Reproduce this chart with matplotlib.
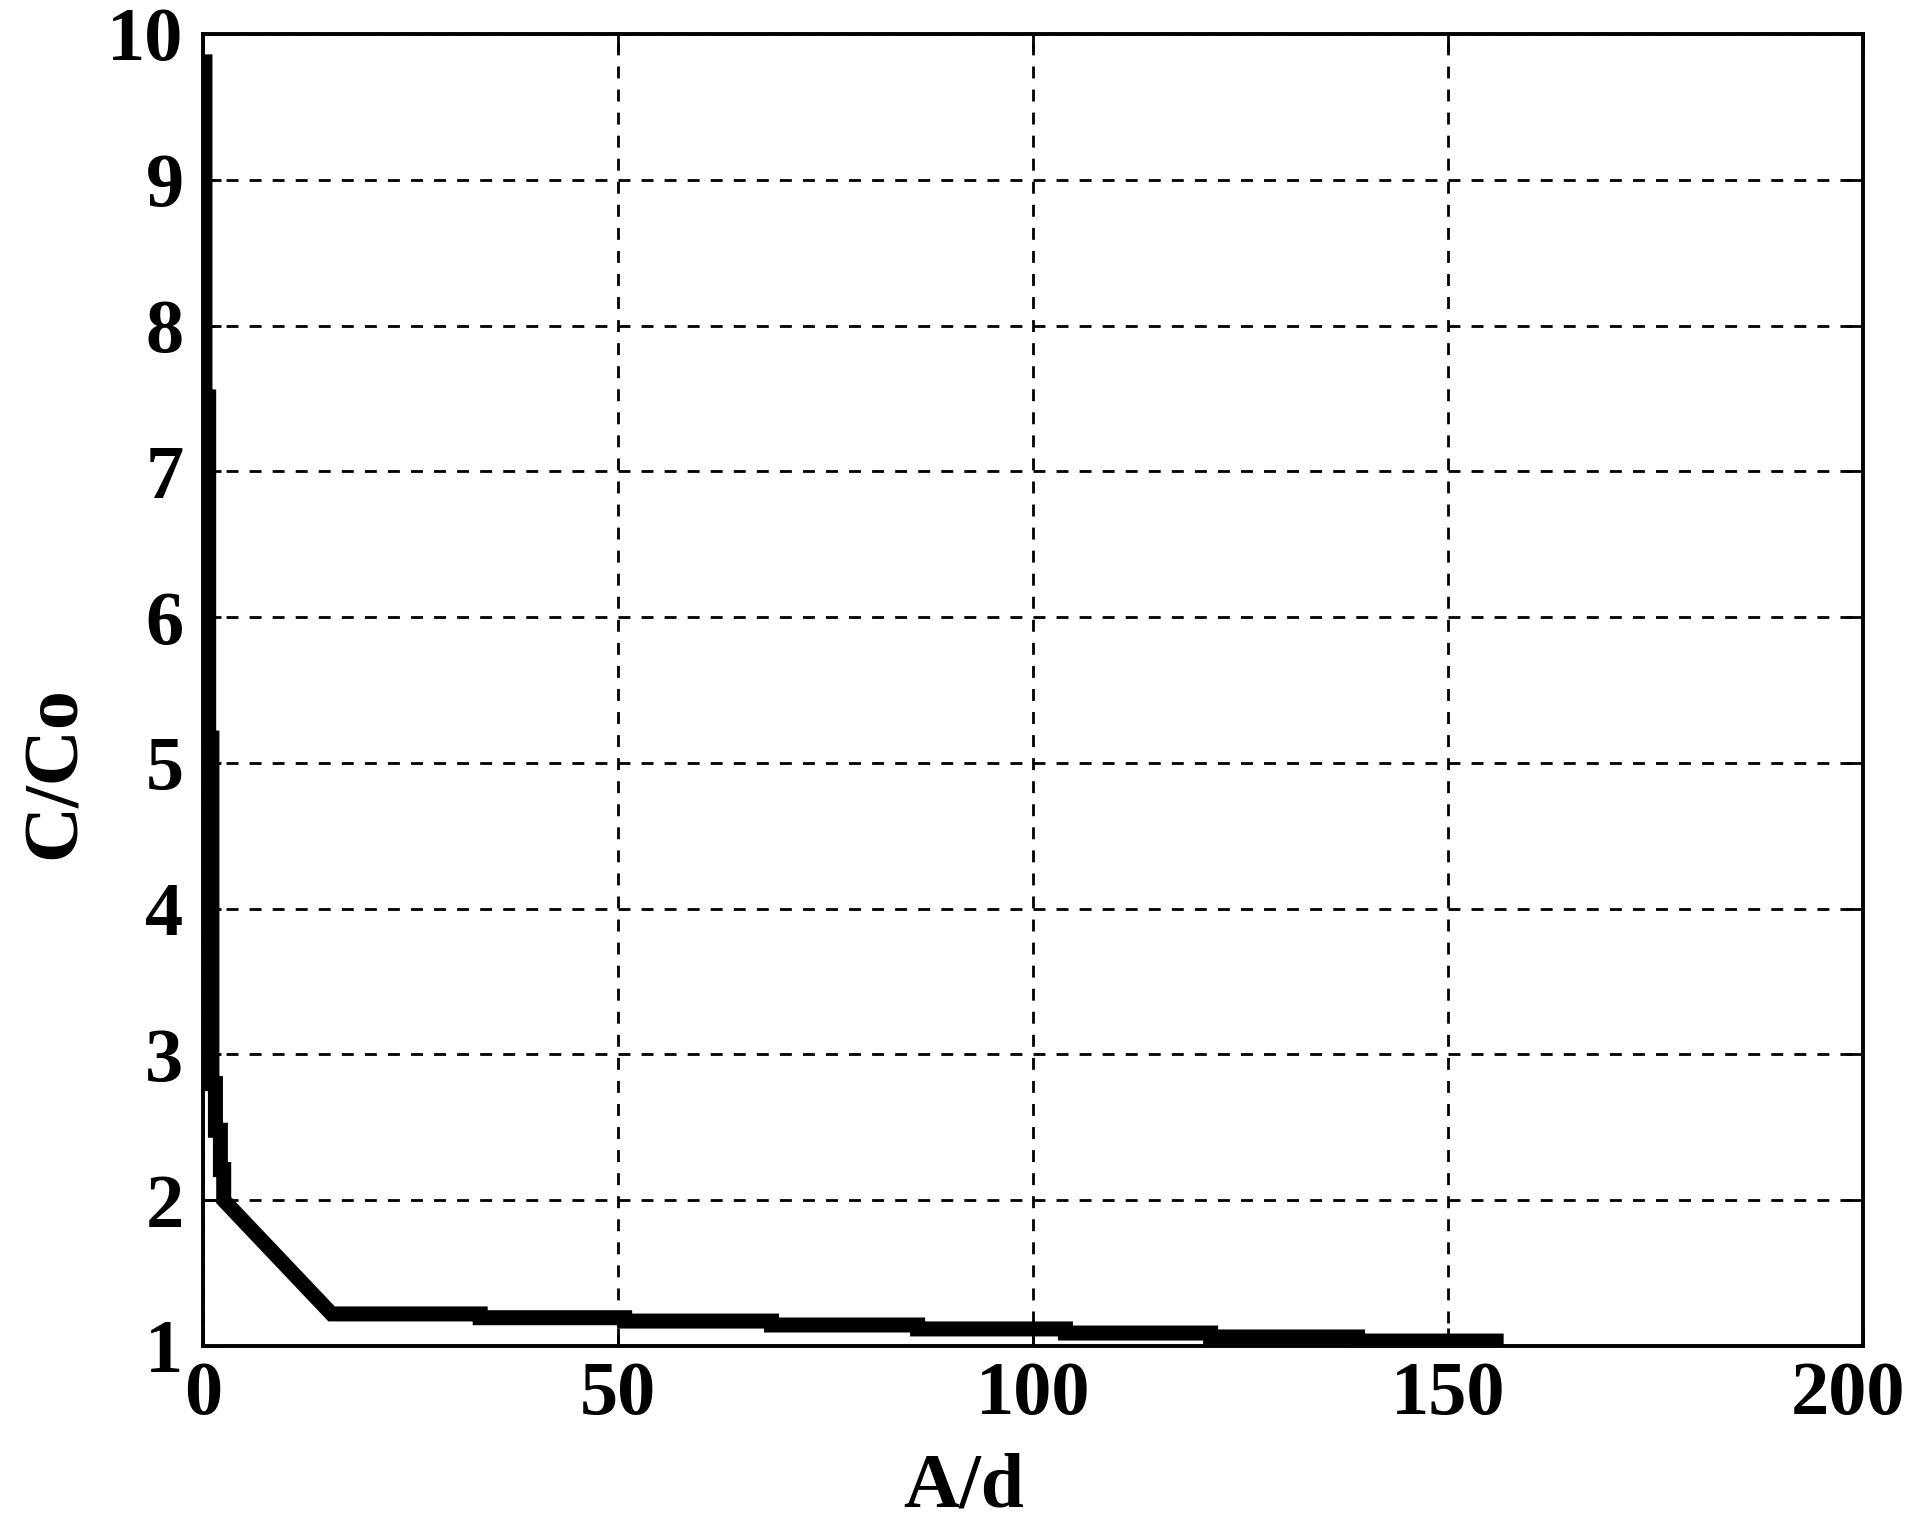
import numpy as np
import matplotlib
matplotlib.use("Agg")
import matplotlib.pyplot as plt
import matplotlib.transforms as mtransforms

# curve vertices (A/d, C/Co)
a_d = [0.24, 0.24, 0.69, 0.69, 1.08, 1.08, 1.5, 1.5, 2.1, 2.1, 2.5, 2.5,
       15.5, 33.4, 33.4, 50.8, 50.8, 68.5, 68.5, 86.1, 86.1,
       103.9, 103.9, 121.4, 121.4, 139.1, 139.1, 156.7]
c_co = [9.86, 7.51, 7.51, 5.17, 5.17, 2.80, 2.80, 2.48, 2.48, 2.21, 2.21, 2.0,
        1.22, 1.22, 1.194, 1.194, 1.171, 1.171, 1.144, 1.144, 1.117,
        1.117, 1.089, 1.089, 1.062, 1.062, 1.034, 1.034]

x_ticks = [0, 50, 100, 150, 200]
y_ticks = [1, 2, 3, 4, 5, 6, 7, 8, 9, 10]

plt.rcParams['font.family'] = ['Liberation Serif', 'DejaVu Serif']
plt.rcParams['font.weight'] = 'bold'

fig = plt.figure(figsize=(19.13, 15.24), dpi=100)
ax = fig.add_axes([0.1061, 0.1168, 0.8678, 0.8609])

ax.plot(a_d, c_co, color='black', linewidth=10.8,
        solid_joinstyle='miter', solid_capstyle='butt', zorder=3)

ax.set_xlim(0, 200)
ax.set_ylim(1, 10)
ax.set_xticks(x_ticks)
ax.set_yticks(y_ticks)
ax.set_xticklabels([str(t) for t in x_ticks], fontsize=55, fontweight='bold')
ax.set_yticklabels([str(t) for t in y_ticks], fontsize=55, fontweight='bold')

ax.grid(True, color='black', linestyle=(0, (4.3, 4.0)), linewidth=2.0)
ax.tick_params(direction='in', length=13, width=2.0, top=True, right=True)
ax.tick_params(axis='y', pad=14)
ax.tick_params(axis='x', pad=11)

for s in ax.spines.values():
    s.set_linewidth(2.8)

# the last x label sits a bit to the left, as in the original
last = ax.get_xticklabels()[-1]
last.set_transform(last.get_transform() +
                   mtransforms.ScaledTranslation(-0.15, 0, fig.dpi_scale_trans))

ax.set_xlabel("A/d", fontsize=56, fontweight='bold')
ax.set_ylabel("C/Co", fontsize=56, fontweight='bold')
ax.xaxis.set_label_coords(0.458, -0.081)
ax.yaxis.set_label_coords(-0.067, 0.437)

fig.savefig("out.png", dpi=100)
